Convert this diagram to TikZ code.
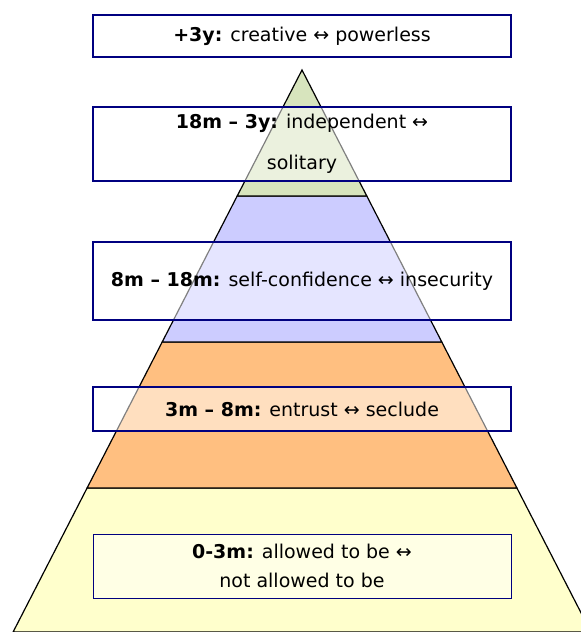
\documentclass[tikz,border=0pt]{standalone}
\usepackage{fontspec}
\setmainfont{DejaVu Sans}
\definecolor{pgreen}{HTML}{D7E4BD}
\definecolor{pblue}{HTML}{CCCCFF}
\definecolor{porange}{HTML}{FFBF80}
\definecolor{pyellow}{HTML}{FFFFCC}
\definecolor{boxnavy}{HTML}{000080}
\begin{document}
\begin{tikzpicture}[x=1pt,y=-1pt,
  band/.style={draw=black, line width=1.2pt, line join=miter},
  agebox/.style={draw=boxnavy, line width=2pt, fill=white, fill opacity=0.5,
    text opacity=1, draw opacity=1, inner sep=0pt, minimum width=418pt,
    align=center, font=\fontsize{19}{23}\selectfont},
  thinbox/.style={agebox, line width=1pt}]
\useasboundingbox (0,0) rectangle (581,632);
\begin{scope}
  \clip (0,0) rectangle (581,632);
  \filldraw[band, fill=pyellow] (87.1,488) -- (516.9,488) -- (590.9,632) -- (13.1,632) -- cycle;
  \filldraw[band, fill=porange] (162.2,342) -- (441.8,342) -- (516.9,488) -- (87.1,488) -- cycle;
  \filldraw[band, fill=pblue] (237.2,196) -- (366.8,196) -- (441.8,342) -- (162.2,342) -- cycle;
  \filldraw[band, fill=pgreen] (302,70) -- (366.8,196) -- (237.2,196) -- cycle;
\end{scope}
\node[agebox, minimum height=42pt] (b1) at (302,36)
  {{\bfseries +3y:} creative ↔ powerless};
\node[agebox, minimum height=74pt] (b2) at (302,144)
  {{\bfseries 18m – 3y:} independent ↔\\[18pt]solitary};
\node[agebox, minimum height=78pt] (b3) at (302,281)
  {{\bfseries 8m – 18m:} self-confidence ↔ insecurity};
\node[agebox, minimum height=44pt] (b4) at (302,409)
  {{\bfseries 3m – 8m:} entrust ↔ seclude};
\node[thinbox, minimum height=64pt] (b5) at (302,566)
  {{\bfseries 0-3m:} allowed to be ↔\\[6pt]not allowed to be};
\end{tikzpicture}
\end{document}
